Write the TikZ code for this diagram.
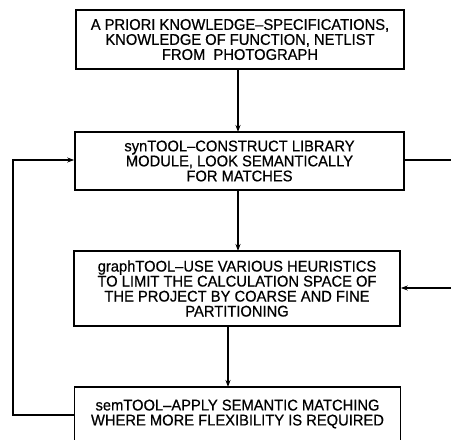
\documentclass[tikz,border=0pt]{standalone}
\usepackage{fontspec}
\setmainfont{Liberation Sans}[FakeBold=0.6,FakeStretch=0.95]
\usetikzlibrary{arrows.meta}
\begin{document}
\begin{tikzpicture}[x=1pt,y=-1pt,
  box/.style={draw,line width=1.6pt,rectangle,inner sep=0pt,align=center,
    font=\fontsize{15.5}{15}\selectfont},
  conn/.style={line width=1.6pt,-{Stealth[length=7pt,width=5pt]}},
  plain/.style={line width=1.6pt}]
\useasboundingbox (0,0) rectangle (451,440);
\clip (0,0) rectangle (451,440);
\node[box,minimum width=328pt,minimum height=59pt] (b1) at (240,39.5)
  {A PRIORI KNOWLEDGE–SPECIFICATIONS,\\KNOWLEDGE OF FUNCTION, NETLIST\\FROM\ \ PHOTOGRAPH};
\node[box,minimum width=329pt,minimum height=58pt] (b2) at (239.5,161)
  {synTOOL–CONSTRUCT LIBRARY\\MODULE, LOOK SEMANTICALLY\\FOR MATCHES};
\node[box,minimum width=326pt,minimum height=75pt] (b3) at (237,288.5)
  {graphTOOL–USE VARIOUS HEURISTICS\\TO LIMIT THE CALCULATION SPACE OF\\THE PROJECT BY COARSE AND FINE\\PARTITIONING};
\node[box,minimum width=326pt,minimum height=54pt] (b4) at (237.5,414)
  {semTOOL–APPLY SEMANTIC MATCHING\\WHERE MORE FLEXIBILITY IS REQUIRED};
\coordinate (l1) at (13,415);
\coordinate (l2) at (13,160);
\coordinate (r1) at (460,160);
\coordinate (r2) at (460,288);
\draw[conn] (238,69) -- (238,132);
\draw[conn] (238,190) -- (238,251);
\draw[conn] (228,326) -- (228,387);
\draw[conn] (b4.west |- l1) -- (l1) -- (l2) -- (b2.west |- l2);
\draw[plain] (b2.east |- r1) -- (r1);
\draw[conn] (r2) -- (b3.east |- r2);
\end{tikzpicture}
\end{document}
